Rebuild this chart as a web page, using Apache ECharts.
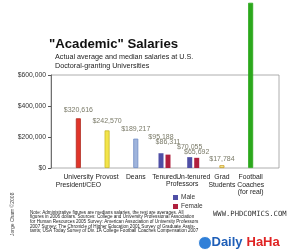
<!DOCTYPE html>
<html><head><meta charset="utf-8">
<script src="https://cdn.jsdelivr.net/npm/echarts@6/dist/echarts.min.js"></script>
<style>html,body{margin:0;padding:0;background:#fff}#c{width:300px;height:250px}</style>
</head><body><div id="c"></div>
<script>
const categories = ['University\nPresident/CEO','Provost','Deans','Tenured','Un-tenured','Grad\nStudents','Football\nCoaches\n(for real)'];
const mainValues = [320616, 242570, 189217, '-', '-', 17784, 1066000];
const maleValues = ['-','-','-', 95188, 70055, '-','-'];
const femaleValues = ['-','-','-', 86311, 65692, '-','-'];
const yTicks = [0, 200000, 400000, 600000];
const seriesNames = ['Male','Female'];

const mainColors = ['#e0352a','#f3e44a','#9fb4dc',null,null,'#f6ee9a','#2ca81c'];
const mainBorders = ['#b02a20','#c8b82a','#6f8cc4',null,null,'#c89a20','#2ca81c'];
const mainLabelGap = [5,6,6,0,0,3,0];
const maleLabelGap = [0,0,0,13,6.5,0,0];
const femaleLabelGap = [0,0,0,9,2,0,0];
const fmt = v => '$' + Number(v).toLocaleString('en-US');

const chart = echarts.init(document.getElementById('c'), null, {renderer:'canvas'});
const lblStyle = {fontSize:7, color:'#7a7a68', fontFamily:'Liberation Sans'};
const mkData = (vals, colors, borders, gaps, showLabelAll) => vals.map((v,i)=> v==='-' ? '-' : ({
  value: v,
  itemStyle: colors ? {color: colors[i], borderColor: borders[i], borderWidth: 0.8} : undefined,
  label: {show: showLabelAll ? true : (i !== 6), distance: gaps[i], formatter: p => fmt(p.value), ...lblStyle}
}));

chart.setOption({
  animation:false,
  textStyle:{fontFamily:'Liberation Sans'},
  title:[
    {text:'"Academic" Salaries', left:44, top:33, textStyle:{fontSize:13.2, fontWeight:'bold', color:'#111', fontFamily:'Liberation Sans'}},
    {text:'Actual average and median salaries at U.S.\nDoctoral-granting Universities', left:50, top:48, textStyle:{fontSize:7.2, fontWeight:'normal', color:'#222', lineHeight:9, fontFamily:'Liberation Sans'}}
  ],
  legend:{data:seriesNames, orient:'vertical', left:168, top:189, itemWidth:5, itemHeight:5, itemGap:2, icon:'rect',
    textStyle:{fontSize:6.5, color:'#333', padding:[0,0,0,-2]}},
  grid:[
    {left:51, right:21, top:75, bottom:82, show:true, borderColor:'#9a9a9a', borderWidth:0.8, backgroundColor:'#fff'},
    {left:64, width:201, top:75, bottom:82}
  ],
  xAxis:[
    {type:'category', gridIndex:1, data:categories, axisLine:{show:false}, axisTick:{show:false},
      axisLabel:{fontSize:6.8, color:'#222', lineHeight:7.2, margin:6, interval:0}},
    {type:'category', gridIndex:1, data:categories, show:false},
    {type:'value', gridIndex:0, show:false, min:0, max:1}
  ],
  yAxis:[
    {type:'value', gridIndex:0, min:yTicks[0], max:yTicks[yTicks.length-1], interval:yTicks[1]-yTicks[0],
      axisLine:{show:true, lineStyle:{color:'#555', width:0.8}}, axisTick:{show:true, length:3, lineStyle:{color:'#555'}},
      splitLine:{show:false}, axisLabel:{fontSize:6.8, color:'#333', margin:5, formatter:v=>fmt(v)}},
    {type:'value', gridIndex:1, min:yTicks[0], max:yTicks[yTicks.length-1], show:false, splitLine:{show:false}}
  ],
  series:[
    {type:'bar', xAxisIndex:0, yAxisIndex:1, barWidth:5, clip:false,
      label:{show:true, position:'top'},
      data: mkData(mainValues, mainColors, mainBorders, mainLabelGap, false)},
    {name:'Male', type:'bar', xAxisIndex:1, yAxisIndex:1, barWidth:5, barGap:'40%', clip:false,
      itemStyle:{color:'#4f4fa6'}, label:{show:true, position:'top'},
      data: mkData(maleValues, null, null, maleLabelGap, true)},
    {name:'Female', type:'bar', xAxisIndex:1, yAxisIndex:1, barWidth:5, barGap:'40%', clip:false,
      itemStyle:{color:'#b0203e'}, label:{show:true, position:'top'},
      data: mkData(femaleValues, null, null, femaleLabelGap, true)}
  ],
  graphic:[
    {type:'text', left:166, top:181, style:{text:'Professors', fontSize:6.8, fill:'#222', fontFamily:'Liberation Sans'}},
    {type:'text', left:30, top:210, style:{text:'Note: Administrative figures are medians salaries, the rest are averages. All\nfigures in 2006 dollars. Sources: College and University Professional Association\nfor Human Resources 2005 Survey: American Association of University Professors\n2007 Survey; The Chronicle of Higher Education 2001 Survey of Graduate Assis-\ntants; USA Today Survey of Div. 1A College Football Coaches Compensation 2007',
      fontSize:4.6, lineHeight:4.6, fill:'#222', fontFamily:'Liberation Sans'}},
    {type:'text', left:213, top:211, style:{text:'WWW.PHDCOMICS.COM', fontSize:7.2, fill:'#333', fontFamily:'DejaVu Sans Mono'}},
    {type:'text', x:10, y:236, rotation:Math.PI/2, style:{text:'Jorge Cham \u00a92008', fontSize:5, fill:'#444', fontFamily:'Liberation Sans'}},
    {type:'circle', shape:{cx:205, cy:243, r:6.5}, style:{fill:'#2f7fd8', stroke:'#fff', lineWidth:1}},
    {type:'text', left:211, top:235, style:{text:'Daily', fontSize:13, fontWeight:'bold', fill:'#1f5fb8', stroke:'#fff', lineWidth:1, fontFamily:'Liberation Sans'}},
    {type:'text', left:246, top:235, style:{text:'HaHa', fontSize:13, fontWeight:'bold', fill:'#e02424', stroke:'#fff', lineWidth:1, fontFamily:'Liberation Sans'}}
  ]
});
</script></body></html>
